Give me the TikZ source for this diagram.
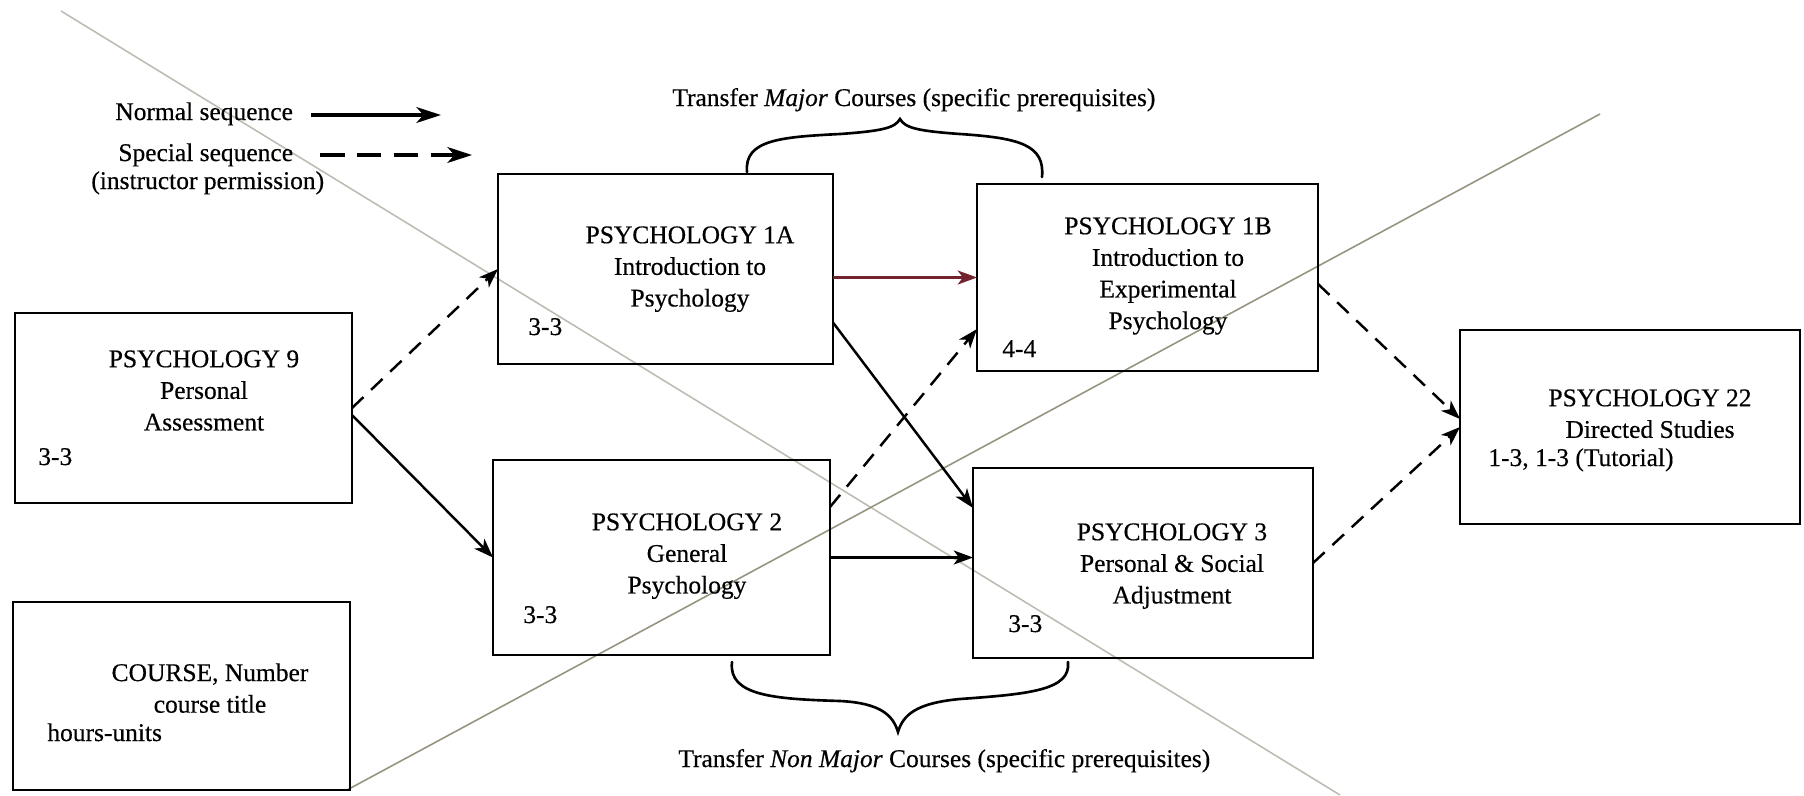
\documentclass[tikz,border=0pt]{standalone}
\usepackage{fontspec}
\setmainfont[FakeBold=0.4]{Liberation Serif}
\usepackage{tikz}
\usetikzlibrary{arrows.meta,positioning,fit}

\definecolor{maroon}{RGB}{115,35,45}
\definecolor{pencil}{RGB}{190,188,178}
\definecolor{pencildark}{RGB}{150,148,128}

\tikzstyle{course}=[rectangle,draw,line width=1.6pt,inner sep=0pt,outer sep=0pt]
\tikzstyle{title}=[align=center,anchor=north,inner sep=0pt]
\tikzstyle{hours}=[anchor=base west,inner sep=0pt]
\tikzstyle{note}=[anchor=base west,inner sep=0pt]
\tikzstyle{normal seq}=[-{Stealth[length=11pt,width=8pt,inset=3pt]},line width=1.4pt]
\tikzstyle{special seq}=[normal seq,dash pattern=on 9pt off 6pt]
\tikzstyle{key normal}=[-{Stealth[length=14pt,width=9pt,inset=4pt]},line width=2pt]
\tikzstyle{key special}=[key normal,dash pattern=on 14pt off 7pt]
\tikzstyle{brace}=[line width=1.5pt,line cap=round]
\tikzstyle{strike}=[line width=0.9pt]

\begin{document}
\begin{tikzpicture}[x=0.02cm,y=-0.02cm,font=\fontsize{14.5}{18}\selectfont]
\useasboundingbox (0,0) rectangle (1804,795);

% pencil strokes across the sheet
\draw [strike,pencil] (61,11) -- (1340,795);
\draw [strike,pencildark] (347,790) -- (1600,114);

% key
\node (nseq) [note] at (115,120) {Normal sequence};
\node (sseq) [note] at (118,161) {Special sequence};
\node (perm) [note] at (91,189) {(instructor permission)};
\coordinate (nseq-a) at (311,115);
\coordinate (nseq-b) at (441,115);
\coordinate (sseq-a) at (320,155);
\coordinate (sseq-b) at (472,155);
\draw [key normal] (nseq-a) -- (nseq-b);
\draw [key special] (sseq-a) -- (sseq-b);

% course boxes
\node (p9) [course,fit={(15,313) (352,503)}] {};
\node (course) [course,fit={(13,602) (350,790)}] {};
\node (p1a) [course,fit={(498,174) (833,364)}] {};
\node (p2) [course,fit={(493,460) (830,655)}] {};
\node (p1b) [course,fit={(977,184) (1318,371)}] {};
\node (p3) [course,fit={(973,468) (1313,658)}] {};
\node (p22) [course,fit={(1460,330) (1800,524)}] {};

\node (p9-t) [title] at (204,350) {PSYCHOLOGY 9\\Personal\\Assessment};
\node (p9-h) [hours] at (38,465) {3-3};
\node (course-t) [title] at (210,663) {COURSE, Number\\course title};
\node (course-h) [hours] at (47,741) {hours-units};
\node (p1a-t) [title] at (690,226) {PSYCHOLOGY 1A\\Introduction to\\Psychology};
\node (p1a-h) [hours] at (528,335) {3-3};
\node (p2-t) [title] at (687,513) {PSYCHOLOGY 2\\General\\Psychology};
\node (p2-h) [hours] at (523,623) {3-3};
\node (p1b-t) [title] at (1168,217) {PSYCHOLOGY 1B\\Introduction to\\Experimental\\Psychology};
\node (p1b-h) [hours] at (1002,357) {4-4};
\node (p3-t) [title] at (1172,523) {PSYCHOLOGY 3\\Personal \& Social\\Adjustment};
\node (p3-h) [hours] at (1008,632) {3-3};
\node (p22-t) [title] at (1650,389) {PSYCHOLOGY 22\\Directed Studies};
\node (p22-h) [hours] at (1488,466) {1-3, 1-3 (Tutorial)};

% transfer braces
\node (major) [note] at (672,106) {Transfer \textit{Major} Courses (specific prerequisites)};
\node (nonmajor) [note] at (678,767) {Transfer \textit{Non Major} Courses (specific prerequisites)};
\draw [brace] (747,172) .. controls (744,140) and (780,137) .. (840,134)
  .. controls (882,131) and (895,128) .. (900,119)
  .. controls (905,128) and (918,131) .. (960,134)
  .. controls (1020,138) and (1045,145) .. (1042,177);
\draw [brace] (732,662) .. controls (728,696) and (775,699) .. (840,701)
  .. controls (880,703) and (893,715) .. (898,732)
  .. controls (903,715) and (916,703) .. (960,699)
  .. controls (1030,694) and (1071,690) .. (1068,662);

% sequences
\draw [special seq] (p9.east) -- (p1a.west);
\draw [normal seq] ([yshift=-0.14cm]p9.east) -- (p2.west);
\draw [normal seq,maroon] (p1a.east |- p1b.west) -- (p1b.west);
\draw [normal seq] ([yshift=-1.07cm]p1a.east) -- ([yshift=-0.8cm]p3.north west);
\draw [special seq] ([yshift=1.01cm]p2.east) -- ([yshift=-1.03cm]p1b.west);
\draw [normal seq] (p2.east) -- (p2.east -| p3.west);
\draw [special seq] ([yshift=-0.13cm]p1b.east) -- ([yshift=0.16cm]p22.west);
\draw [special seq] (p3.east) -- (p22.west);

\end{tikzpicture}
\end{document}
